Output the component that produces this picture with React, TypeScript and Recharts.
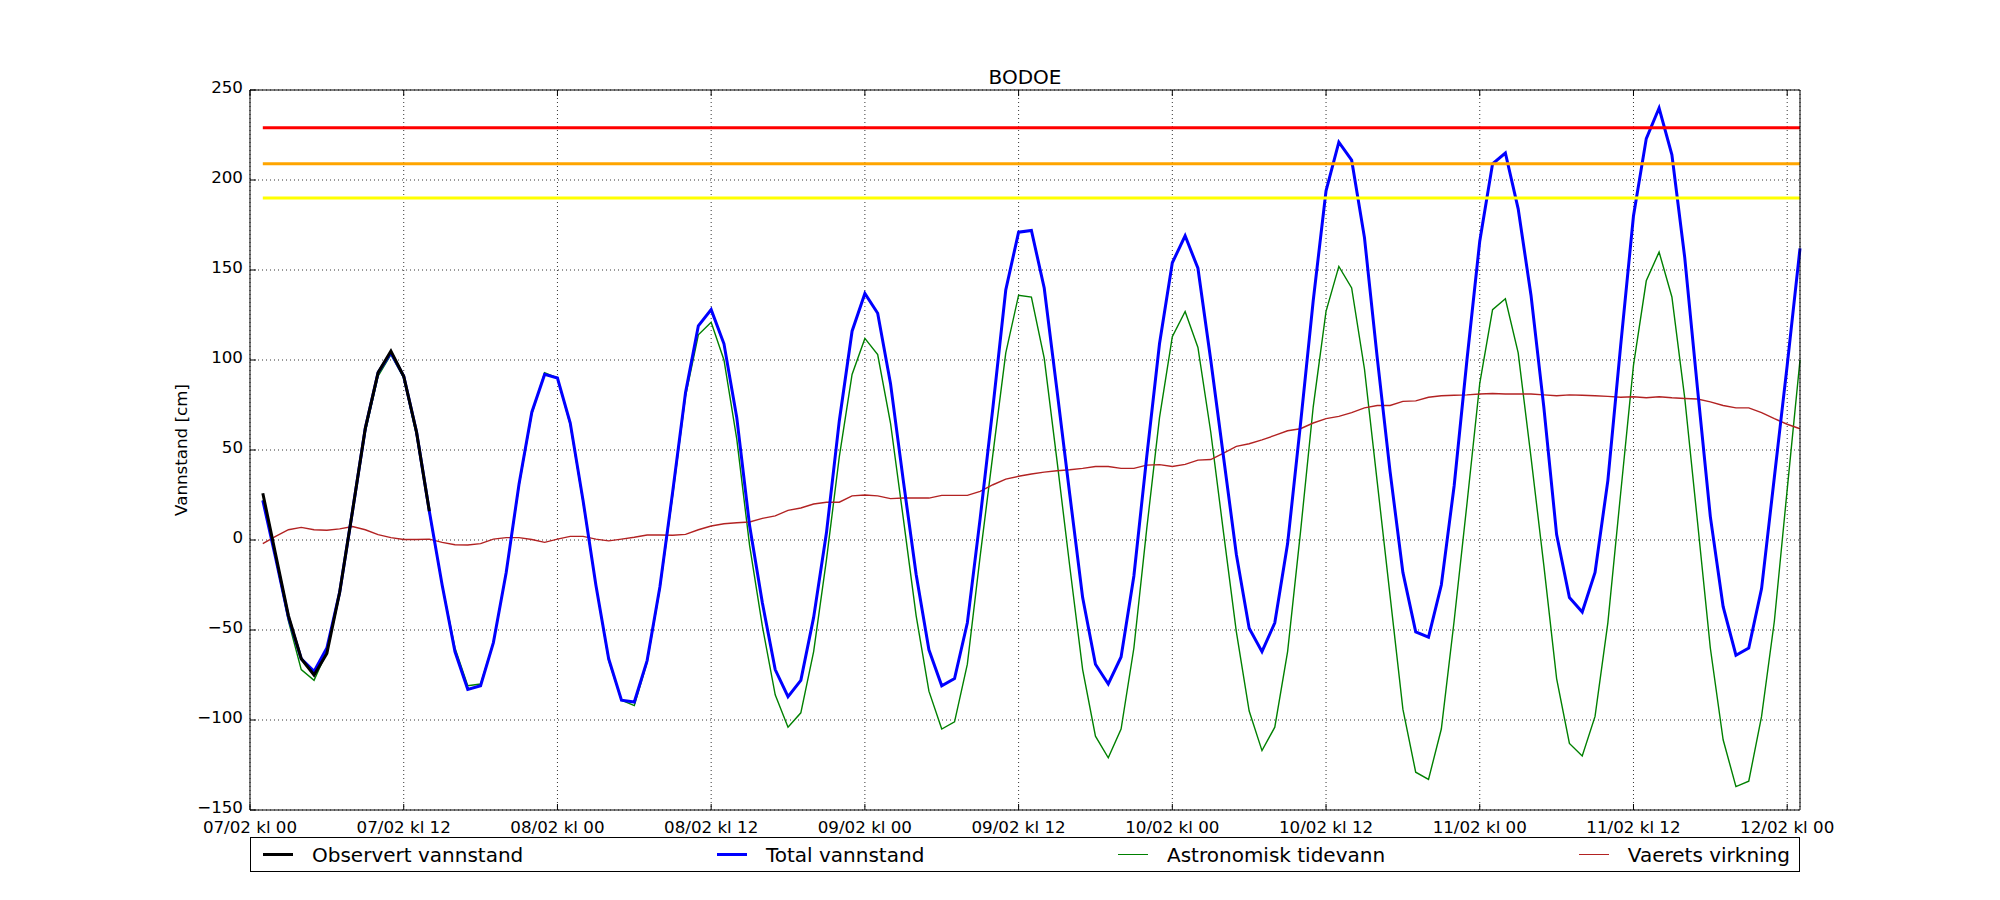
import React from 'react'
import { LineChart, Line, XAxis, YAxis, CartesianGrid, ReferenceLine } from 'recharts'

// hourly series, first value = 07/02 kl 01
const firstHour = 1

const observed = [26, -8, -42, -66, -75, -63, -29, 16, 62, 93, 105, 91, 60, 16]

const total = [
  22, -10, -43, -66, -73, -60, -29, 16, 62, 93, 104, 91, 60, 16, -25, -62, -83, -81, -57, -18,
  31, 71, 92, 90, 65, 22, -25, -66, -89, -90, -67, -26, 27, 82, 119, 128, 109, 68, 8, -35,
  -72, -87, -78, -43, 4, 66, 116, 137, 126, 87, 33, -19, -61, -81, -77, -46, 12, 74, 139, 171,
  172, 140, 83, 25, -32, -69, -80, -65, -20, 46, 109, 154, 169, 151, 100, 46, -8, -49, -62, -46,
  -2, 64, 133, 194, 221, 211, 168, 101, 38, -18, -51, -54, -25, 30, 100, 166, 209, 215, 184, 136,
  74, 3, -32, -40, -18, 33, 108, 180, 223, 240, 214, 157, 84, 13, -37, -64, -60, -27, 35, 97,
  162,
]

const astro = [
  22, -10, -45, -72, -78, -62, -30, 15, 60, 91, 103, 90, 58, 15, -25, -60, -81, -80, -57, -18,
  30, 70, 93, 90, 64, 21, -25, -67, -89, -92, -68, -27, 25, 80, 114, 121, 100, 56, -3, -48,
  -86, -104, -96, -62, -11, 46, 92, 112, 103, 65, 12, -42, -84, -105, -101, -69, -9, 48, 104, 136,
  135, 101, 44, -15, -72, -109, -121, -105, -60, 6, 68, 113, 127, 107, 60, 4, -51, -95, -117, -104,
  -62, 4, 74, 127, 152, 140, 95, 32, -31, -94, -129, -133, -105, -45, 20, 87, 128, 134, 104, 46,
  -14, -77, -113, -120, -98, -46, 26, 97, 144, 160, 135, 79, 10, -60, -111, -137, -134, -98, -45, 28,
  100,
]

const weather = [
  -2, 2, 5.7, 7, 5.7, 5.4, 6.2, 7.5, 5.7, 3, 1.3, 0.3, 0.3, 0.5, -1.3, -2.6, -2.8, -2, 0.5, 1.3,
  1.3, 0.3, -1.3, 0.5, 2, 2, 0.5, -0.5, 0.5, 1.5, 2.8, 2.8, 2.6, 3.1, 5.7, 7.8, 9, 9.6, 10, 12,
  13.4, 16.5, 17.8, 20, 21, 21, 24.5, 25, 24.5, 23, 23.3, 23.3, 23.3, 24.8, 24.8, 24.8, 27, 30.7, 33.8, 35.4,
  36.7, 37.7, 38.5, 39, 39.8, 40.8, 40.8, 39.8, 39.8, 41.6, 41.9, 40.8, 42, 44.4, 44.7, 48.3, 52, 53.5, 55.6, 58.1,
  60.7, 61.8, 65, 67.4, 68.7, 70.8, 73.4, 74.7, 74.7, 77, 77.3, 79.3, 80.1, 80.4, 80.6, 81.1, 81.4, 81.1, 81.1, 81.1,
  80.6, 80.1, 80.6, 80.4, 80.1, 79.8, 79.3, 79.6, 79, 79.6, 79, 78.6, 78.3, 76.7, 74.7, 73.4, 73.4, 70.8, 67.4, 64.3,
  61.8,
]

// warning levels (red, orange, yellow)
const levels = [229, 209, 190]
const levelColors = ['#ff0000', '#ffa500', '#ffff00']

const xTicks = [0, 12, 24, 36, 48, 60, 72, 84, 96, 108, 120]
const xTickLabels = [
  '07/02 kl 00', '07/02 kl 12', '08/02 kl 00', '08/02 kl 12', '09/02 kl 00', '09/02 kl 12',
  '10/02 kl 00', '10/02 kl 12', '11/02 kl 00', '11/02 kl 12', '12/02 kl 00',
]
const yTicks = [-150, -100, -50, 0, 50, 100, 150, 200, 250]

const legendItems = [
  { name: 'Observert vannstand', color: '#000000', width: 3 },
  { name: 'Total vannstand', color: '#0000ff', width: 3 },
  { name: 'Astronomisk tidevann', color: '#008000', width: 1.4 },
  { name: 'Vaerets virkning', color: '#b22222', width: 1.4 },
]

const data = total.map((v, i) => ({
  h: firstHour + i,
  total: v,
  astro: astro[i],
  weather: weather[i],
  obs: i < observed.length ? observed[i] : null,
}))

const FONT = 'DejaVu Sans'
const TICK = 6

const BottomTick = ({ x, y, payload }: any) => (
  <g>
    <line x1={x} x2={x} y1={y} y2={y - TICK} stroke="#000" />
    <text x={x} y={y + 23} textAnchor="middle" fontSize={16.7} fontFamily={FONT} fill="#000">
      {xTickLabels[xTicks.indexOf(payload.value)]}
    </text>
  </g>
)
const TopTick = ({ x, y }: any) => <line x1={x} x2={x} y1={y} y2={y + TICK} stroke="#000" />
const LeftTick = ({ x, y, payload }: any) => (
  <g>
    <line x1={x} x2={x + TICK} y1={y} y2={y} stroke="#000" />
    <text x={x - 7} y={y + 3} textAnchor="end" fontSize={16.7} fontFamily={FONT} fill="#000">
      {String(payload.value).replace('-', '\u2212')}
    </text>
  </g>
)
const RightTick = ({ x, y }: any) => <line x1={x} x2={x - TICK} y1={y} y2={y} stroke="#000" />

export default function App() {
  return (
    <div style={{ position: 'absolute', left: 0, top: 0, width: 2000, height: 900, background: '#fff', fontFamily: FONT }}>
      <LineChart width={2000} height={900} data={data} margin={{ top: 60, right: 140, bottom: 60, left: 190 }}>
        <CartesianGrid stroke="#000" strokeWidth={0.8} strokeDasharray="1 3" />
        <XAxis
          dataKey="h" type="number" domain={[0, 121]} ticks={xTicks} interval={0}
          height={30} tickSize={0} tickMargin={0} tickLine={false} axisLine={{ stroke: '#000' }} tick={<BottomTick />}
        />
        <XAxis
          xAxisId="top" orientation="top" dataKey="h" type="number" domain={[0, 121]} ticks={xTicks} interval={0}
          height={30} tickSize={0} tickMargin={0} tickLine={false} axisLine={{ stroke: '#000' }} tick={<TopTick />}
        />
        <YAxis
          domain={[-150, 250]} ticks={yTicks} interval={0} width={60} allowDataOverflow
          tickSize={0} tickMargin={0} tickLine={false} axisLine={{ stroke: '#000' }} tick={<LeftTick />}
        />
        <YAxis
          yAxisId="right" orientation="right" domain={[-150, 250]} ticks={yTicks} interval={0} width={60}
          tickSize={0} tickMargin={0} tickLine={false} axisLine={{ stroke: '#000' }} tick={<RightTick />}
        />
        <Line dataKey="astro" stroke="#008000" strokeWidth={1.4} dot={false} activeDot={false} isAnimationActive={false} />
        <Line dataKey="weather" stroke="#b22222" strokeWidth={1.4} dot={false} activeDot={false} isAnimationActive={false} />
        <Line dataKey="total" stroke="#0000ff" strokeWidth={3} dot={false} activeDot={false} isAnimationActive={false} />
        <Line dataKey="obs" stroke="#000000" strokeWidth={3} dot={false} activeDot={false} isAnimationActive={false} />
        {levels.map((lv, i) => (
          <ReferenceLine
            key={lv}
            segment={[{ x: firstHour, y: lv }, { x: 121, y: lv }]}
            stroke={levelColors[i]}
            strokeWidth={3}
          />
        ))}
        <text x={1025} y={84} textAnchor="middle" fontSize={20} fontFamily={FONT} fill="#000">BODOE</text>
        <text
          x={187} y={450} textAnchor="middle" fontSize={16.7} fontFamily={FONT} fill="#000"
          transform="rotate(-90 187 450)"
        >
          Vannstand [cm]
        </text>
      </LineChart>
      <div
        style={{
          position: 'absolute', left: 250, top: 837, width: 1550, height: 35, boxSizing: 'border-box',
          border: '1px solid #000', display: 'flex', alignItems: 'center', justifyContent: 'space-between',
          padding: '0 9px 0 12px', fontSize: 20, color: '#000',
        }}
      >
        {legendItems.map((it) => (
          <div key={it.name} style={{ display: 'flex', alignItems: 'center' }}>
            <span style={{ display: 'inline-block', width: 30, height: it.width, background: it.color, marginRight: 19 }} />
            <span>{it.name}</span>
          </div>
        ))}
      </div>
    </div>
  )
}
